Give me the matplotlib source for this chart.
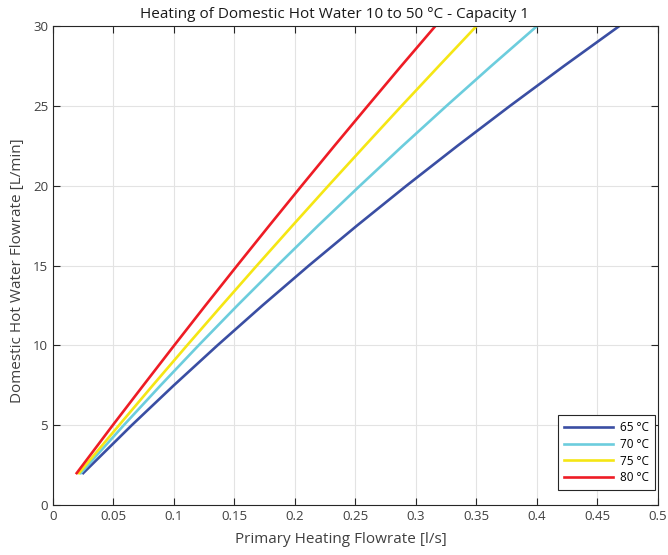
"""
Heating of domestic hot water, capacity 1: primary flowrate vs DHW flowrate.
"""
import matplotlib

matplotlib.use("Agg")
import matplotlib.pyplot as plt

plt.rcParams["font.family"] = ["Open Sans", "DejaVu Sans"]

# Domestic hot water flowrate [L/min] sampled along each curve
dhw_flow = [2, 5, 7.5, 10, 12.5, 15, 17.5, 20, 22.5, 25, 27.5, 30]

# Primary heating flowrate [l/s] for each primary supply temperature
primary_65 = [0.0250, 0.0651, 0.0999, 0.1359, 0.1731, 0.2115,
              0.2512, 0.2921, 0.3343, 0.3777, 0.4223, 0.468]
primary_70 = [0.0230, 0.0585, 0.0890, 0.1203, 0.1524, 0.1854,
              0.2191, 0.2537, 0.2890, 0.3252, 0.3622, 0.400]
primary_75 = [0.0215, 0.0546, 0.0825, 0.1108, 0.1395, 0.1685,
              0.1979, 0.2276, 0.2577, 0.2881, 0.3189, 0.350]
primary_80 = [0.0196, 0.0494, 0.0747, 0.1002, 0.1260, 0.1522,
              0.1787, 0.2055, 0.2326, 0.2601, 0.2878, 0.316]

series_labels = ["65 °C", "70 °C", "75 °C", "80 °C"]
series_colors = ["#3a4ea3", "#6ccddd", "#f5e614", "#ee1c25"]

x_ticks = [0, 0.05, 0.1, 0.15, 0.2, 0.25, 0.3, 0.35, 0.4, 0.45, 0.5]
x_tick_labels = ["0", "0.05", "0.1", "0.15", "0.2", "0.25", "0.3", "0.35", "0.4", "0.45", "0.5"]
y_ticks = [0, 5, 10, 15, 20, 25, 30]

fig = plt.figure(figsize=(6.68, 5.55), dpi=100)
ax = fig.add_axes([0.0793, 0.090, 0.9057, 0.863])

for xs, label, color in zip(
    [primary_65, primary_70, primary_75, primary_80], series_labels, series_colors
):
    ax.plot(xs, dhw_flow, color=color, lw=1.9, label=label)

ax.set_xlim(0, 0.5)
ax.set_ylim(0, 30)
ax.set_xticks(x_ticks)
ax.set_xticklabels(x_tick_labels)
ax.set_yticks(y_ticks)
ax.tick_params(direction="in", length=5, width=0.8, colors="#262626",
               labelcolor="#404040", labelsize=9.5, top=True, right=True)
ax.grid(True, color="#e3e3e3", lw=0.8)
ax.set_axisbelow(True)
for spine in ax.spines.values():
    spine.set_color("#262626")
    spine.set_linewidth(0.8)

ax.set_xlabel("Primary Heating Flowrate [l/s]", fontsize=11, color="#404040")
ax.xaxis.set_label_coords(0.476, -0.057)
ax.set_ylabel("Domestic Hot Water Flowrate [L/min]", fontsize=11, color="#404040")
ax.yaxis.set_label_coords(-0.046, 0.49)
fig.suptitle("Heating of Domestic Hot Water 10 to 50 °C - Capacity 1",
             x=0.5, y=0.988, fontsize=11, color="#1a1a1a")

leg = ax.legend(loc="lower right", fontsize=8.5, fancybox=False, framealpha=1,
                edgecolor="#262626", handlelength=4.2, borderpad=0.5,
                labelspacing=0.32, handletextpad=0.6, borderaxespad=0,
                bbox_to_anchor=(0.995, 0.031))
leg.get_frame().set_linewidth(0.8)

fig.savefig("out.png", dpi=100)
